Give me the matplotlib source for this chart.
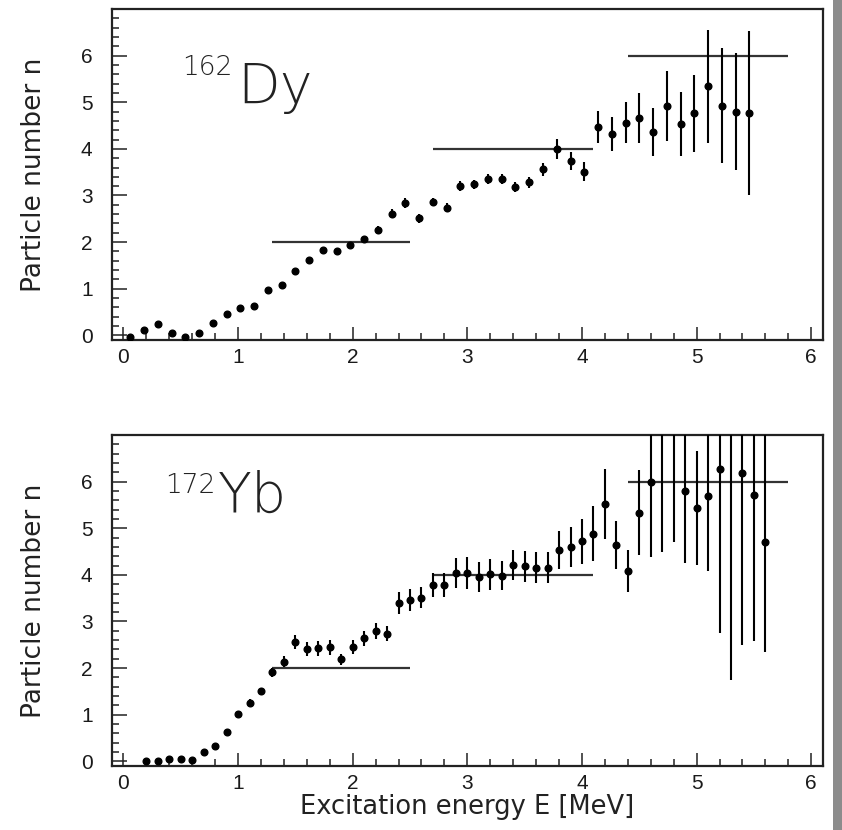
import matplotlib
matplotlib.use("Agg")
import matplotlib.pyplot as plt
from matplotlib.patches import Rectangle
from matplotlib.ticker import MultipleLocator

# ---------------- data ----------------
dy_energy = [0.06, 0.18, 0.30, 0.42, 0.54, 0.66, 0.78, 0.90, 1.02, 1.14,
             1.26, 1.38, 1.50, 1.62, 1.74, 1.86, 1.98, 2.10, 2.22, 2.34,
             2.46, 2.58, 2.70, 2.82, 2.94, 3.06, 3.18, 3.30, 3.42, 3.54,
             3.66, 3.78, 3.90, 4.02, 4.14, 4.26, 4.38, 4.50, 4.62, 4.74,
             4.86, 4.98, 5.10, 5.22, 5.34, 5.46]
dy_n = [-0.04, 0.11, 0.25, 0.05, -0.04, 0.06, 0.26, 0.46, 0.59, 0.62,
        0.97, 1.09, 1.39, 1.62, 1.84, 1.80, 1.94, 2.06, 2.26, 2.61,
        2.84, 2.51, 2.86, 2.74, 3.20, 3.24, 3.35, 3.36, 3.18, 3.28,
        3.56, 4.00, 3.74, 3.51, 4.47, 4.32, 4.56, 4.66, 4.36, 4.91,
        4.53, 4.76, 5.34, 4.93, 4.80, 4.76]
dy_err = [0.02, 0.02, 0.02, 0.02, 0.02, 0.02, 0.02, 0.03, 0.03, 0.03,
          0.03, 0.03, 0.03, 0.04, 0.04, 0.05, 0.05, 0.06, 0.08, 0.10,
          0.10, 0.09, 0.09, 0.10, 0.10, 0.10, 0.11, 0.11, 0.11, 0.12,
          0.14, 0.21, 0.19, 0.21, 0.35, 0.37, 0.44, 0.54, 0.52, 0.75,
          0.69, 0.82, 1.22, 1.24, 1.26, 1.76]

yb_energy = [0.2, 0.3, 0.4, 0.5, 0.6, 0.7, 0.8, 0.9, 1.0, 1.1,
             1.2, 1.3, 1.4, 1.5, 1.6, 1.7, 1.8, 1.9, 2.0, 2.1,
             2.2, 2.3, 2.4, 2.5, 2.6, 2.7, 2.8, 2.9, 3.0, 3.1,
             3.2, 3.3, 3.4, 3.5, 3.6, 3.7, 3.8, 3.9, 4.0, 4.1,
             4.2, 4.3, 4.4, 4.5, 4.6, 4.7, 4.8, 4.9, 5.0, 5.1,
             5.2, 5.3, 5.4, 5.5, 5.6]
yb_n = [0.01, 0.00, 0.04, 0.06, 0.02, 0.19, 0.33, 0.63, 1.02, 1.26,
        1.50, 1.91, 2.14, 2.56, 2.41, 2.43, 2.45, 2.19, 2.45, 2.64,
        2.79, 2.74, 3.40, 3.46, 3.51, 3.78, 3.78, 4.04, 4.04, 3.95,
        4.01, 3.98, 4.22, 4.18, 4.15, 4.15, 4.54, 4.59, 4.72, 4.88,
        5.51, 4.64, 4.09, 5.33, 6.00, 7.40, 7.50, 5.79, 5.43, 5.70,
        6.26, 7.30, 6.19, 5.71, 4.71]
yb_err = [0.02, 0.02, 0.02, 0.02, 0.02, 0.03, 0.04, 0.05, 0.06, 0.07,
          0.08, 0.10, 0.12, 0.16, 0.16, 0.16, 0.16, 0.12, 0.15, 0.16,
          0.17, 0.16, 0.24, 0.23, 0.23, 0.25, 0.25, 0.33, 0.35, 0.32,
          0.34, 0.31, 0.32, 0.33, 0.33, 0.33, 0.41, 0.43, 0.48, 0.59,
          0.75, 0.52, 0.45, 0.91, 1.62, 2.90, 2.80, 1.54, 1.22, 1.61,
          3.50, 5.55, 3.70, 3.12, 2.37]

# plateau lines (n level, start energy, end energy)
plateau_n = [2, 4, 6]
plateau_start = [1.3, 2.7, 4.4]
plateau_end = [2.5, 4.1, 5.8]

x_ticks = [0, 1, 2, 3, 4, 5, 6]
y_ticks = [0, 1, 2, 3, 4, 5, 6]

# ---------------- figure ----------------
W, H = 842, 830
fig = plt.figure(figsize=(W / 100, H / 100), dpi=100)
fig.patch.set_facecolor("white")

def frac_box(left, top, right, bottom):
    return [left / W, 1 - bottom / H, (right - left) / W, (bottom - top) / H]

ax_top = fig.add_axes(frac_box(112, 9, 822.7, 340))
ax_bot = fig.add_axes(frac_box(112, 435, 822.7, 766))

tick_font = dict(family="Liberation Sans", size=15)

def style(ax):
    ax.set_xlim(-0.1, 6.1)
    ax.set_ylim(-0.1, 7.0)
    for s in ax.spines.values():
        s.set_linewidth(1.6)
        s.set_color("#222222")
    ax.set_xticks(x_ticks)
    ax.set_yticks(y_ticks)
    ax.xaxis.set_minor_locator(MultipleLocator(0.2))
    ax.yaxis.set_minor_locator(MultipleLocator(0.2))
    ax.tick_params(which="both", direction="in", top=False, right=False,
                   color="#222222", width=1.1)
    ax.tick_params(axis="x", which="major", length=9.5, pad=6)
    ax.tick_params(axis="x", which="minor", length=5)
    ax.tick_params(axis="y", which="major", length=10.5, pad=14)
    ax.tick_params(axis="y", which="minor", length=5)
    for lab in ax.get_xticklabels() + ax.get_yticklabels():
        lab.set_fontfamily(tick_font["family"])
        lab.set_fontsize(tick_font["size"])
        lab.set_color("#1a1a1a")

for ax, xs, ys, es in [(ax_top, dy_energy, dy_n, dy_err),
                       (ax_bot, yb_energy, yb_n, yb_err)]:
    style(ax)
    ax.errorbar(xs, ys, yerr=es, fmt="o", color="black", ms=4.8,
                elinewidth=1.5, capsize=0, zorder=3)
    ax.hlines(plateau_n, plateau_start, plateau_end, color="#333333",
              linewidth=1.6, zorder=2)

# y labels
label_font = dict(family="DejaVu Sans", color="#222222")
for top, bottom in [(9, 340), (435, 766)]:
    fig.text(34 / W, 1 - (top + bottom) / 2 / H, "Particle number n",
             rotation=90, ha="center", va="center", size=19, **label_font)

# x label
fig.text(467 / W, 1 - 814 / H, "Excitation energy E [MeV]",
         ha="center", va="baseline", size=18.5, **label_font)

# isotope labels
iso_font = dict(family="DejaVu Sans", weight="light", color="#222222")
fig.text(182 / W, 1 - 75 / H, "162", ha="left", va="baseline", size=19, **iso_font)
fig.text(237 / W, 1 - 103 / H, "Dy", ha="left", va="baseline", size=40, **iso_font)
fig.text(165 / W, 1 - 493 / H, "172", ha="left", va="baseline", size=19, **iso_font)
fig.text(218 / W, 1 - 512 / H, "Yb", ha="left", va="baseline", size=40, **iso_font)

# gray strip at right edge
fig.patches.append(Rectangle((833 / W, 0), 9 / W, 1, transform=fig.transFigure,
                             facecolor="#8c8c8c", edgecolor="none"))

fig.savefig("out.png", dpi=100)
